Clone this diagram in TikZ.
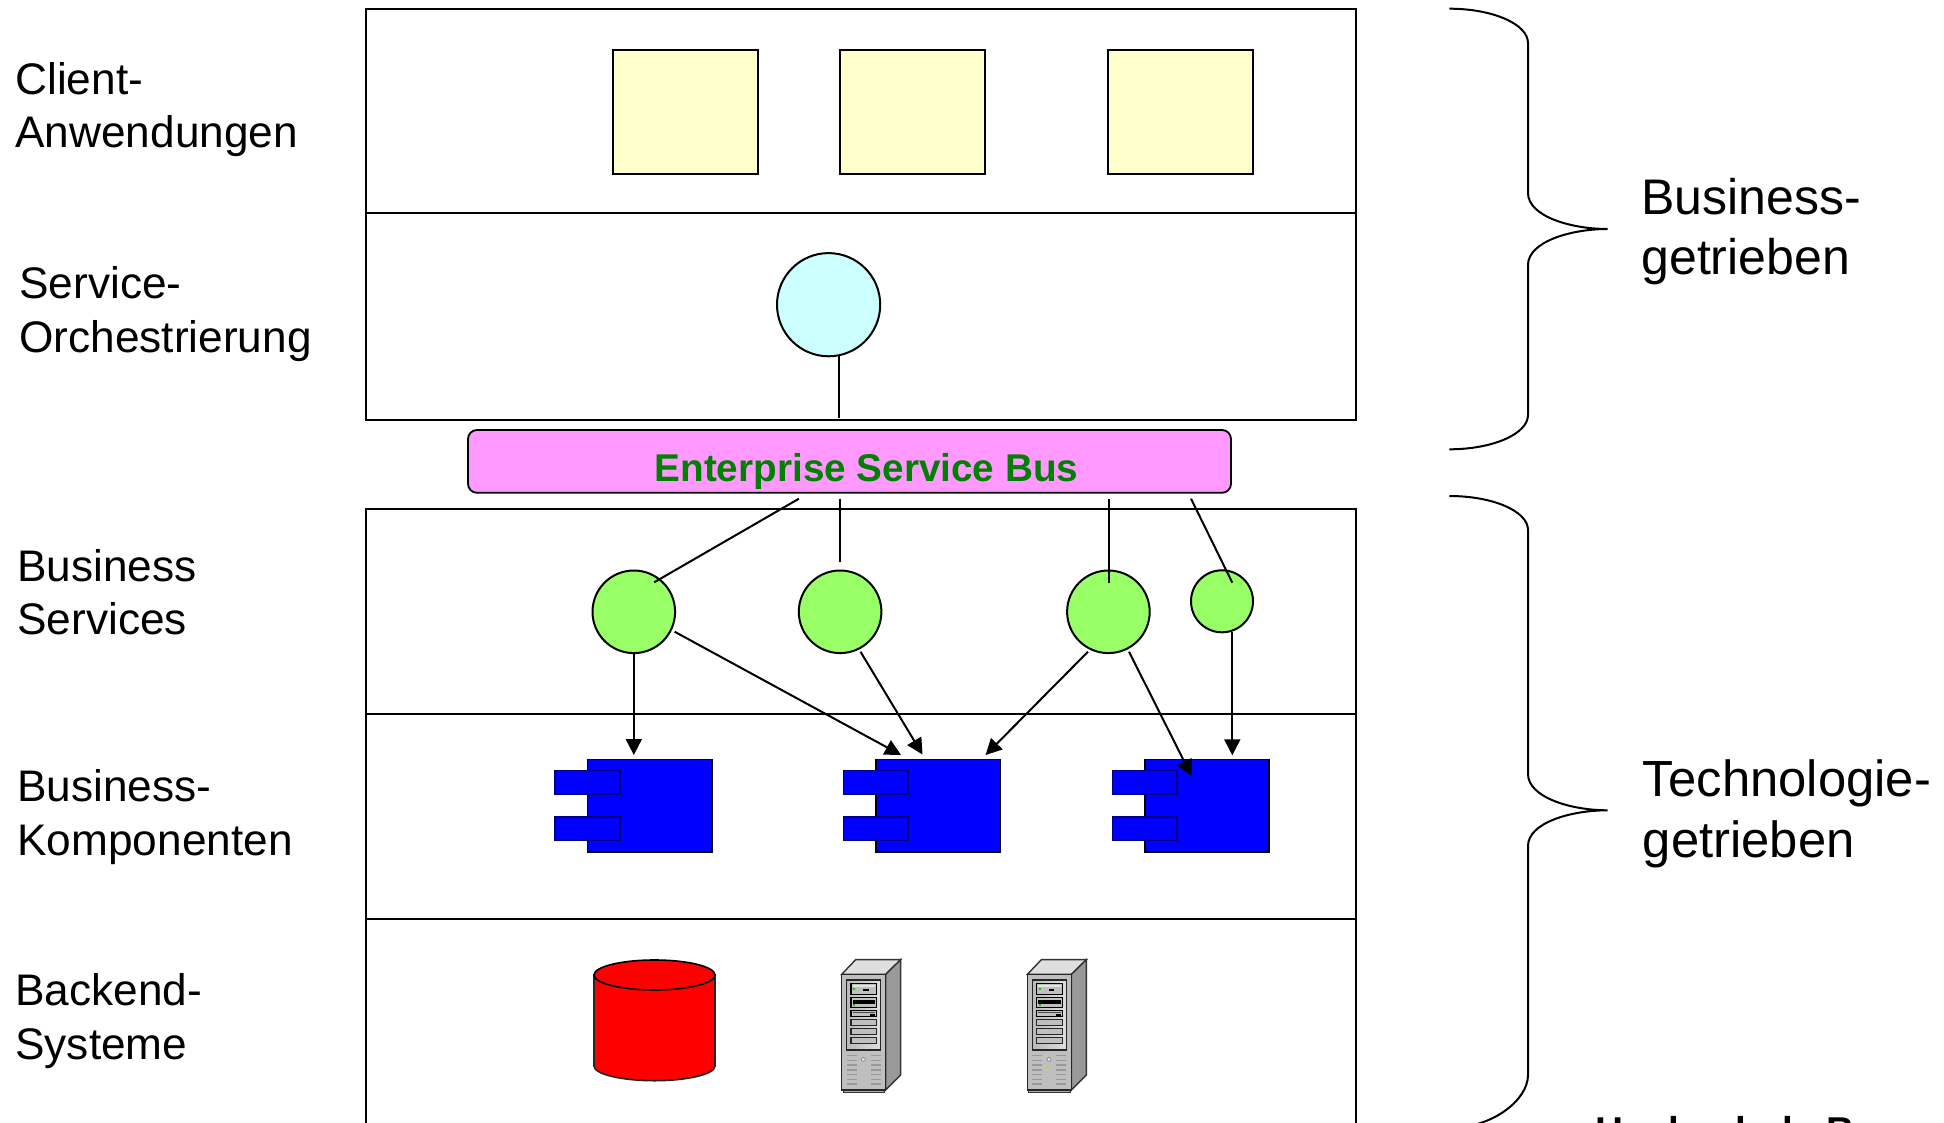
\documentclass[tikz,border=0pt]{standalone}
\usepackage{fontspec}
\setmainfont{Liberation Sans}
\usetikzlibrary{arrows.meta}
\definecolor{noteyellow}{HTML}{FFFFCC}
\definecolor{orchcyan}{HTML}{CCFFFF}
\definecolor{buspink}{HTML}{FF99FF}
\definecolor{svcgreen}{HTML}{99FF66}
\definecolor{bustext}{HTML}{008000}
\tikzset{
  layerbox/.style={draw=black,line width=1pt,fill=none,anchor=north west,inner sep=0,outer sep=0,minimum width=495pt},
  clientbox/.style={draw=black,line width=1pt,fill=noteyellow,inner sep=0,outer sep=0,minimum width=72.5pt,minimum height=62pt},
  svc/.style={draw=black,line width=1pt,fill=svcgreen,circle,inner sep=0,outer sep=0,minimum size=#1},
  compmain/.style={draw=black,line width=.8pt,fill=blue,inner sep=0,outer sep=0,anchor=north west,minimum width=62.2pt,minimum height=46.2pt},
  compport/.style={draw=blue!50!black,line width=.8pt,fill=blue,inner sep=0,outer sep=0,anchor=north west,minimum width=32.3pt,minimum height=11.7pt},
  sidelabel/.style={align=left,inner sep=0,anchor=base west,font=\fontsize{22.1}{26.75}\selectfont},
  biglabel/.style={align=left,inner sep=0,anchor=base west,font=\fontsize{25}{30.2}\selectfont},
  techlabel/.style={align=left,inner sep=0,anchor=base west,font=\fontsize{25.4}{30.2}\selectfont},
  link/.style={draw=black,line width=1pt},
  flow/.style={link,-{Triangle[length=8pt,width=8pt]}},
  bracepath/.style={draw=black,line width=1pt},
}
\newcommand{\serverdraw}[2]{%
\begin{scope}[shift={(#1,#2)},x=.16667pt,y=-.16667pt]
  \fill[gray!65!white,draw=black!80,line width=.5pt] (69,450) rectangle (193,458);
  \fill[gray!25,draw=black!80,line width=.7pt] (65,103) -- (107,59) -- (242,59) -- (197,103) -- cycle;
  \fill[gray!80!white,draw=black!80,line width=.7pt] (197,103) -- (242,59) -- (242,405) -- (197,450) -- cycle;
  \fill[gray!50,draw=black!85,line width=.8pt] (65,103) rectangle (197,450);
  \shade[left color=gray!55,right color=gray!25,draw=black!85,line width=.7pt] (80,120) rectangle (182,330);
  \fill[gray!50,draw=black,line width=.7pt] (93,130) rectangle (170,163);
  \fill[black] (130,146) rectangle (146,154);
  \fill[gray!20] (98,136) rectangle (165,142);
  \fill[green!80!black] (99,145) rectangle (105,149);
  \fill[gray!50,draw=black,line width=.7pt] (93,172) rectangle (170,203);
  \fill[black] (98,180) rectangle (165,191);
  \fill[green!80!black] (99,193) rectangle (105,197);
  \fill[gray!50,draw=black,line width=.7pt] (93,211) rectangle (170,230);
  \fill[black!70] (98,216) rectangle (165,219);
  \fill[black] (150,221) rectangle (166,227);
  \fill[gray!50,draw=black!85,line width=.6pt] (93,238) rectangle (170,256);
  \fill[gray!50,draw=black!85,line width=.6pt] (93,265) rectangle (170,283);
  \fill[gray!50,draw=black!85,line width=.6pt] (93,293) rectangle (170,311);
  \foreach \ventY in {347,361,375,390,404,418,432}{
    \fill[gray!80!white] (80,\ventY-2) rectangle (110,\ventY+2);
    \fill[gray!80!white] (152,\ventY-2) rectangle (182,\ventY+2);
  }
  \fill[gray!25,draw=gray,line width=.3pt] (130,358) circle [x radius=6,y radius=6];
  \fill[yellow!80!green] (128,378) rectangle (132,384);
\end{scope}}
\begin{document}
\begin{tikzpicture}[x=.5pt,y=-.5pt]
\useasboundingbox (0,0) rectangle (1944,1123);
\fill[white] (0,0) rectangle (1944,1123);
\clip (0,0) rectangle (1944,1123);

% layers
\node[layerbox,minimum height=101.85pt] (clientlayer) at (366,9) {};
\node[layerbox,minimum height=103.5pt] (orchlayer) at (366,212.7) {};
\node[layerbox,minimum height=102.35pt] (bslayer) at (366,509) {};
\node[layerbox,minimum height=102.5pt] (complayer) at (366,713.7) {};
\node[layerbox,minimum height=110pt] (backendlayer) at (366,918.7) {};

% client applications
\node[clientbox] (app1) at (685.4,111.9) {};
\node[clientbox] (app2) at (912.5,111.9) {};
\node[clientbox] (app3) at (1180.6,111.9) {};

% orchestration
\node[draw=black,line width=1pt,fill=orchcyan,circle,inner sep=0,outer sep=0,minimum size=51.6pt] (orch) at (828.6,304.7) {};
\coordinate (orchtop) at (838.7,355.5);
\coordinate (orchend) at (838.7,417.5);
\draw[link] (orchtop) -- (orchend);

% bus
\node[draw=black,line width=.9pt,fill=buspink,rounded corners=4.5pt,inner sep=0,outer sep=0,minimum width=381.5pt,minimum height=31.4pt] (esb) at (849.5,461.4) {};
\node[inner sep=0,anchor=base,font=\fontsize{19.35}{22}\selectfont\bfseries,text=bustext] (esblabel) at (866.5,481) {Enterprise Service Bus};

% services
\node[svc=41.3pt] (s1) at (633.8,611.8) {};
\node[svc=41.3pt] (s2) at (840.1,611.8) {};
\node[svc=41.3pt] (s3) at (1108.4,611.8) {};
\node[svc=31pt] (s4) at (1222,601.3) {};

% components
\foreach \nm/\cx/\px in {c1/587.4/555.2,c2/875.9/843.5,c3/1144.8/1112.5}{
  \node[compmain] (\nm) at (\cx,759.6) {};
  \node[compport] (\nm p1) at (\px,770.6) {};
  \node[compport] (\nm p2) at (\px,817) {};
}

% bus links
\coordinate (busa) at (798.9,498.7);
\coordinate (busb) at (840.1,498.7);
\coordinate (busc) at (1108.6,498.7);
\coordinate (busd) at (1191,498.7);
\coordinate (sa) at (654.2,582.3);
\coordinate (sb) at (840.1,561.7);
\coordinate (sc) at (1108.6,582.7);
\coordinate (sd) at (1232.3,582.7);
\draw[link] (busa) -- (sa);
\draw[link] (busb) -- (sb);
\draw[link] (busc) -- (sc);
\draw[link] (busd) -- (sd);

% flows
\coordinate (f1a) at (633.8,653);
\coordinate (f1b) at (633.8,755);
\coordinate (f2a) at (674.6,631.7);
\coordinate (f2b) at (901,755);
\coordinate (f3a) at (860.5,651.7);
\coordinate (f3b) at (922.5,754.5);
\coordinate (f4a) at (1088,651.7);
\coordinate (f4b) at (985.6,755);
\coordinate (f5a) at (1129,651.7);
\coordinate (f5b) at (1191.5,776);
\coordinate (f6a) at (1232.3,632);
\coordinate (f6b) at (1232.3,755.3);
\draw[flow] (f1a) -- (f1b);
\draw[flow] (f2a) -- (f2b);
\draw[flow] (f3a) -- (f3b);
\draw[flow] (f4a) -- (f4b);
\draw[flow] (f5a) -- (f5b);
\draw[flow] (f6a) -- (f6b);

% database
\fill[red,draw=black!85,line width=.8pt] (594,975) -- (594,1066) arc[start angle=180,end angle=360,x radius=60.5,y radius=-14.7] -- (715,975) -- cycle;
\fill[red,draw=black,line width=.8pt] (654.5,975) ellipse [x radius=60.5,y radius=15];

% servers
\serverdraw{820}{940}
\serverdraw{1005.7}{940}

% braces
\draw[bracepath] (1449.3,8.7) .. controls (1492.5,8.7) and (1528,24) .. (1528,43) -- (1528,193)
  .. controls (1528,216) and (1570,229) .. (1607.7,229)
  .. controls (1570,229) and (1528,242) .. (1528,265) -- (1528,415)
  .. controls (1528,434) and (1492.5,449.3) .. (1449.3,449.3);
\draw[bracepath] (1449.3,496) .. controls (1492.5,496) and (1528,511) .. (1528,530) -- (1528,774)
  .. controls (1528,797) and (1570,810.3) .. (1607.7,810.3)
  .. controls (1570,810.3) and (1528,823) .. (1528,846) -- (1528,1075)
  .. controls (1528,1100) and (1492.5,1128) .. (1449.3,1128);

% labels (a node's base is that of its last line)
\node[sidelabel] (lclient) at (15,148) {Client-\\Anwendungen};
\node[sidelabel] (lorch) at (19,352) {Service-\\Orchestrierung};
\node[sidelabel] (lbs) at (17,634.5) {Business\\Services};
\node[sidelabel] (lcomp) at (17,855) {Business-\\Komponenten};
\node[sidelabel] (lback) at (15,1059) {Backend-\\Systeme};
\node[biglabel] (lbiz) at (1641,274.5) {Business-\\getrieben};
\node[techlabel] (ltech) at (1642.5,857) {Technologie-\\getrieben};
\node[inner sep=0,anchor=base west,font=\fontsize{19.4}{22}\selectfont\bfseries] (lhs) at (1595,1144.8) {Hochschule B};
\end{tikzpicture}
\end{document}
